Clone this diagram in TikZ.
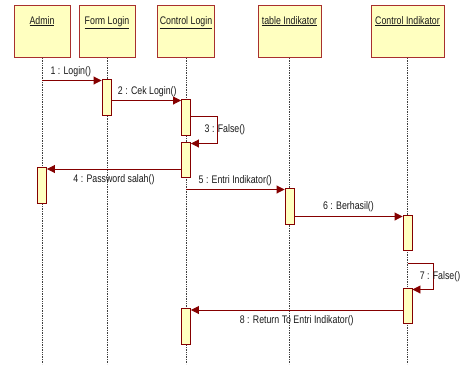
\documentclass[tikz,border=0pt]{standalone}
\usepackage{fontspec}
\setmainfont{Liberation Sans}[FakeStretch=0.8]
\usetikzlibrary{arrows.meta,calc}
\definecolor{boxfill}{HTML}{FFFFC0}
\definecolor{boxline}{HTML}{A8302E}
\definecolor{msgred}{HTML}{850000}
\tikzset{
  lifebox/.style={draw=boxline, fill=boxfill, line width=1pt, anchor=north, minimum height=52, inner sep=0pt},
  actbar/.style={draw=msgred, fill=boxfill, line width=0.9pt, anchor=north, minimum width=9, inner sep=0pt},
  lifeline/.style={densely dotted, gray!50!black, line width=0.7pt},
  msg/.style={draw=msgred, line width=0.9pt, -{Triangle[length=8pt,width=8pt]}},
  msglabel/.style={font=\fontsize{11}{13}\selectfont, text=black!90, inner sep=1pt}
}
\begin{document}
\begin{tikzpicture}[x=1pt, y=-1pt]
\useasboundingbox (0,0) rectangle (462,364);
% objects and lifelines
\foreach \n/\x/\w/\t in {admin/42/56/Admin, formlogin/107/56/Form Login, ctrllogin/186/57/Control Login, tabind/289.5/63/table Indikator, ctrlind/407.5/73/Control Indikator} {
  \node[lifebox, minimum width=\w, label={[msglabel, anchor=north, yshift=-10pt]north:\underline{\t}}] (\n) at (\x,5) {};
  \draw[lifeline] (\n.south) -- (\n.south |- 0,364);
}
% activations
\foreach \n/\x/\y/\h in {fa1/106.5/79/36, ca1/186/99/36, ca2/186/142/35, aa1/42/167/36, ta1/289.5/188/36, ka1/407.5/215/35, ka2/407.5/288/35, ca3/186/308/36}
  \node[actbar, minimum height=\h] (\n) at (\x,\y) {};
% messages
\coordinate (m1) at ([yshift=-1.5pt]fa1.north west);
\draw[msg] (admin |- m1) -- node[msglabel, above=2pt, xshift=-1pt] {1 : Login()} (m1);
\coordinate (m2) at ([yshift=-1.5pt]ca1.north west);
\draw[msg] (fa1.east |- m2) -- node[msglabel, above=2pt, xshift=1pt] {2 : Cek Login()} (m2);
\draw[msg] ([yshift=-17pt]ca1.north east) -- ++(26,0) |- node[msglabel, pos=0.25, xshift=8pt] {3 : False()} ([yshift=-1.5pt]ca2.north east);
\coordinate (m4) at ([yshift=-2pt]aa1.north east);
\draw[msg] (ca2.west |- m4) -- node[msglabel, below=4pt] {4 : Password salah()} (m4);
\coordinate (m5) at ([yshift=-1.5pt]ta1.north west);
\draw[msg] (ctrllogin |- m5) -- node[msglabel, above=2pt] {5 : Entri Indikator()} (m5);
\coordinate (m6) at ([yshift=-1.5pt]ka1.north west);
\draw[msg] (ta1.east |- m6) -- node[msglabel, above=3pt] {6 : Berhasil()} (m6);
\draw[msg] ([yshift=-13pt]ka1.south) -- ++(25.5,0) |- node[msglabel, pos=0.25, xshift=7pt] {7 : False()} ([yshift=-1.5pt]ka2.north east);
\coordinate (m8) at ([yshift=-2pt]ca3.north east);
\draw[msg] (ka2.west |- m8) -- node[msglabel, below=4pt] {8 : Return To Entri Indikator()} (m8);
\end{tikzpicture}
\end{document}
